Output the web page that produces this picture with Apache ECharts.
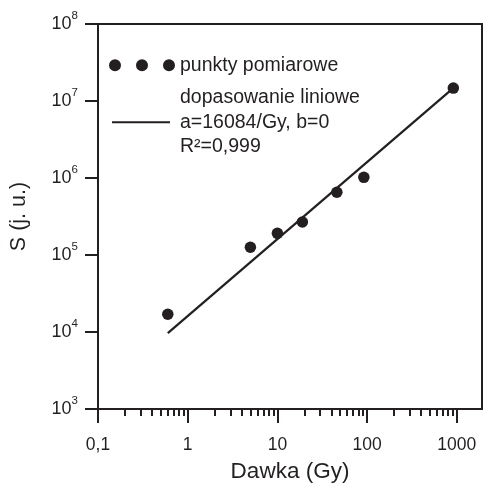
<!DOCTYPE html>
<html><head><meta charset="utf-8">
<script src="https://cdn.jsdelivr.net/npm/echarts@6/dist/echarts.min.js"></script>
<style>html,body{margin:0;padding:0;background:#fff}#c{width:483px;height:483px}</style>
</head><body><div id="c"></div>
<script>
// Data
const doseGy = [0.6, 5, 10, 19, 46, 92, 915];
const signal = [17000, 126000, 191000, 268000, 652000, 1020000, 14700000];
const fitX = [0.6, 920];
const fitY = [9650, 14800000];
const xMajorTicks = [0.1, 1, 10, 100, 1000];
const xMajorLabels = ['0,1', '1', '10', '100', '1000'];
const xMinorTicks = [0.2,0.3,0.4,0.5,0.6,0.7,0.8,0.9,2,3,4,5,6,7,8,9,20,30,40,50,60,70,80,90,200,300,400,500,600,700,800,900];
const yTicks = [1e3, 1e4, 1e5, 1e6, 1e7, 1e8];
const legendNames = ['punkty pomiarowe', 'dopasowanie liniowe\na=16084/Gy, b=0\nR²=0,999'];

const FONT = '"Liberation Sans", Arial, Helvetica, sans-serif';
const INK = '#231f20';

const chart = echarts.init(document.getElementById('c'), null, {renderer: 'canvas'});
const dotsIcon = 'path://M0,6a6,6 0 1,0 12,0a6,6 0 1,0 -12,0zM27,6a6,6 0 1,0 12,0a6,6 0 1,0 -12,0zM54,6a6,6 0 1,0 12,0a6,6 0 1,0 -12,0z';
const lineIcon = 'path://M3,5h58v2h-58zM0,0h0.01v0.01h-0.01zM66,12h-0.01v-0.01h0.01z';

chart.setOption({
  animation: false,
  backgroundColor: '#fff',
  textStyle: {fontFamily: FONT, color: INK},
  grid: {left: 98, top: 24, width: 384, height: 385, show: true, borderColor: INK, borderWidth: 2,
    containLabel: false, outerBoundsMode: 'none'},
  legend: {
    left: 109, top: 53, orient: 'vertical', padding: 0, itemGap: 8,
    itemWidth: 66, itemHeight: 12, selectedMode: false,
    textStyle: {fontFamily: FONT, fontSize: 19.5, lineHeight: 24.5, color: INK},
    data: [
      {name: legendNames[0], icon: dotsIcon, itemStyle: {opacity: 1}},
      {name: legendNames[1], icon: lineIcon, itemStyle: {opacity: 1}}
    ]
  },
  xAxis: [{
    type: 'log', logBase: 10, min: 0.1, max: 1910,
    name: 'Dawka (Gy)', nameLocation: 'middle', nameGap: 51,
    nameTextStyle: {fontFamily: FONT, fontSize: 22.5, color: INK},
    axisLine: {lineStyle: {color: INK, width: 2}},
    axisTick: {show: true, length: 14, lineStyle: {color: INK, width: 2}, customValues: xMajorTicks},
    axisLabel: {margin: 27, fontFamily: FONT, fontSize: 17.5, color: INK, customValues: xMajorTicks,
      formatter: v => { const i = xMajorTicks.findIndex(t => Math.abs(Math.log10(t) - Math.log10(v)) < 1e-6); return i >= 0 ? xMajorLabels[i] : ''; }},
    splitLine: {show: false}
  }, {
    type: 'log', logBase: 10, min: 0.1, max: 1910, position: 'bottom', gridIndex: 0,
    axisLine: {show: false},
    axisTick: {show: true, length: 7, lineStyle: {color: INK, width: 2}, customValues: xMinorTicks},
    axisLabel: {show: false},
    splitLine: {show: false}
  }],
  yAxis: {
    type: 'log', logBase: 10, min: 1e3, max: 1e8,
    name: 'S (j. u.)', nameLocation: 'middle', nameGap: 68,
    nameTextStyle: {fontFamily: FONT, fontSize: 21.5, color: INK},
    axisLine: {lineStyle: {color: INK, width: 2}},
    axisTick: {show: true, length: 13, lineStyle: {color: INK, width: 2}, customValues: yTicks},
    axisLabel: {margin: 20, customValues: yTicks,
      formatter: v => '{b|10}{s|' + Math.round(Math.log10(v)) + '}',
      rich: {
        b: {fontFamily: FONT, fontSize: 18, lineHeight: 28, color: INK},
        s: {fontFamily: FONT, fontSize: 11.5, lineHeight: 12, verticalAlign: 'top', color: INK}
      }},
    splitLine: {show: false}
  },
  series: [{
    name: legendNames[0], type: 'scatter', xAxisIndex: 0,
    symbol: 'circle', symbolSize: 11.5, itemStyle: {color: INK, opacity: 1},
    data: doseGy.map((x, i) => [x, signal[i]]), z: 3
  }, {
    name: legendNames[1], type: 'line', xAxisIndex: 0,
    showSymbol: false, symbol: 'none', lineStyle: {color: INK, width: 2.2}, itemStyle: {color: INK, opacity: 1},
    data: fitX.map((x, i) => [x, fitY[i]]), z: 2
  }]
});
</script></body></html>
